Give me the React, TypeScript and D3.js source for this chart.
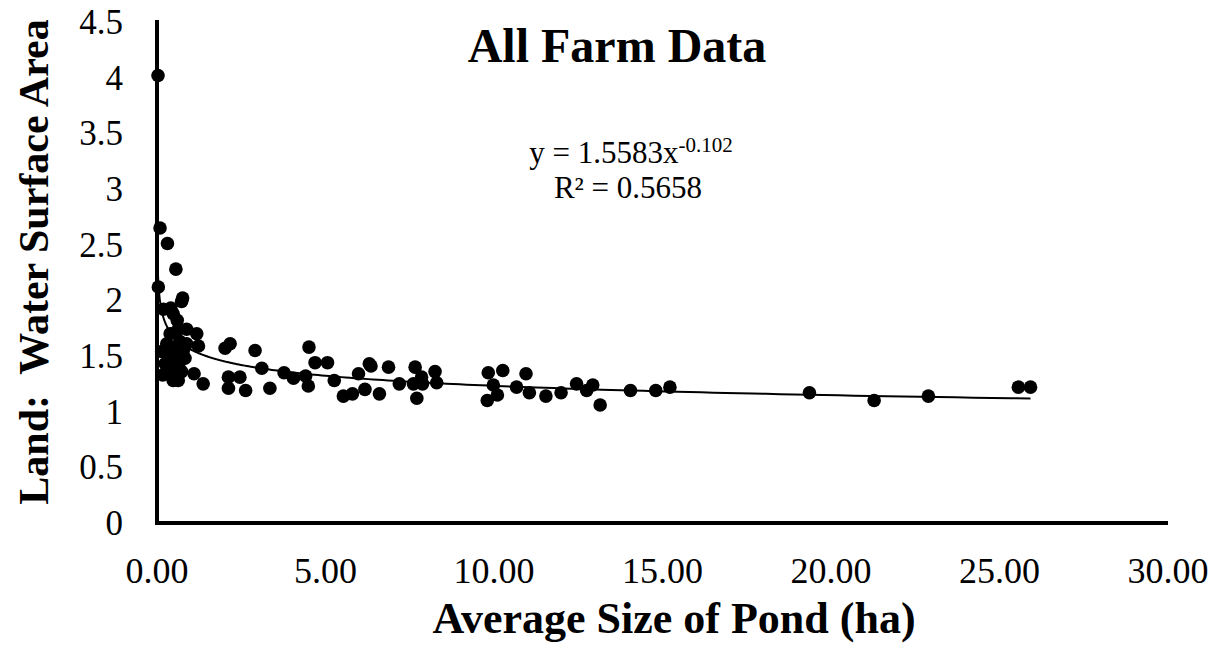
import { useRef, useEffect } from 'react';
import * as d3 from 'd3';

// average pond size (ha) and land : water surface ratio
const pondSize = [
  0.03, 0.09, 0.31, 0.56, 0.04, 0.76, 0.73, 0.19, 0.41, 0.48, 0.6, 0.88, 1.18, 1.23,
  0.39, 0.58, 0.29, 0.68, 0.39, 0.78, 0.24, 0.68, 0.44, 0.73, 0.14, 0.88, 0.83, 0.5, 0.55,
  0.17, 0.48, 0.63, 1.1, 1.37, 2.02, 2.17, 2.91, 2.12, 2.12, 2.46, 2.63, 3.11, 3.35,
  3.77, 4.05, 4.41, 4.49, 4.51, 4.69, 5.06, 5.26, 5.53, 5.8, 5.98, 6.17, 6.3, 6.35,
  6.6, 6.87, 7.19, 7.66, 7.85, 7.61, 7.88, 7.71, 8.25, 8.3, 9.83, 10.26, 9.98, 10.1,
  9.8, 10.67, 10.95, 11.05, 11.54, 11.99, 12.45, 12.75, 12.93, 13.15, 14.05, 14.8,
  15.22, 19.36, 21.28, 22.89, 25.56, 25.92,
];
const landWater = [
  4.02, 2.65, 2.51, 2.28, 2.12, 2.02, 1.99, 1.92, 1.93, 1.88, 1.82, 1.74, 1.7, 1.59,
  1.7, 1.72, 1.61, 1.63, 1.52, 1.55, 1.43, 1.45, 1.36, 1.36, 1.54, 1.61, 1.48, 1.58, 1.47,
  1.33, 1.28, 1.28, 1.34, 1.25, 1.57, 1.61, 1.55, 1.31, 1.21, 1.31, 1.19, 1.39, 1.21,
  1.35, 1.3, 1.32, 1.23, 1.58, 1.44, 1.44, 1.28, 1.14, 1.16, 1.34, 1.2, 1.43, 1.41,
  1.16, 1.4, 1.25, 1.4, 1.31, 1.25, 1.25, 1.12, 1.36, 1.26, 1.35, 1.37, 1.24, 1.15,
  1.1, 1.22, 1.34, 1.17, 1.14, 1.17, 1.25, 1.19, 1.24, 1.06, 1.19, 1.19,
  1.22, 1.17, 1.1, 1.14, 1.22, 1.22,
];

const xTicks = [0, 5, 10, 15, 20, 25, 30];
const yTicks = [0, 0.5, 1, 1.5, 2, 2.5, 3, 3.5, 4, 4.5];

// power trendline from the chart label
const trendA = 1.5583;
const trendB = -0.102;

const FONT = '"Liberation Serif", "Times New Roman", serif';

export default function App() {
  const svgRef = useRef(null);

  useEffect(() => {
    const svg = d3.select(svgRef.current);
    svg.selectAll('*').remove();

    const x = d3.scaleLinear().domain([0, 30]).range([157, 1168]);
    const y = d3.scaleLinear().domain([0, 4.5]).range([523, 22]);

    // trendline
    const xMin = d3.min(pondSize);
    const xMax = d3.max(pondSize);
    const trendPts = d3.range(0, 301).map(i => {
      const t = xMin * Math.pow(xMax / xMin, i / 300);
      return [t, trendA * Math.pow(t, trendB)];
    });
    const line = d3.line().x(d => x(d[0])).y(d => y(d[1]));
    svg.append('path')
      .attr('d', line(trendPts))
      .attr('fill', 'none')
      .attr('stroke', '#000')
      .attr('stroke-width', 2);

    // points
    svg.append('g')
      .selectAll('circle')
      .data(pondSize.map((v, i) => [v, landWater[i]]))
      .enter()
      .append('circle')
      .attr('cx', d => x(d[0]))
      .attr('cy', d => y(d[1]))
      .attr('r', 6.8)
      .attr('fill', '#000');

    // axis lines
    svg.append('path')
      .attr('d', `M${x(0)},${y(4.5) - 2}V${y(0)}H${x(30)}`)
      .attr('fill', 'none')
      .attr('stroke', '#000')
      .attr('stroke-width', 4);

    // tick labels
    svg.append('g')
      .selectAll('text')
      .data(yTicks)
      .enter()
      .append('text')
      .attr('x', 123)
      .attr('y', d => y(d))
      .attr('dy', '0.34em')
      .attr('text-anchor', 'end')
      .attr('font-family', FONT)
      .attr('font-size', 35)
      .text(d => d);

    svg.append('g')
      .selectAll('text')
      .data(xTicks)
      .enter()
      .append('text')
      .attr('x', d => x(d))
      .attr('y', 583)
      .attr('text-anchor', 'middle')
      .attr('font-family', FONT)
      .attr('font-size', 36)
      .text(d => d3.format('.2f')(d));

    // titles
    svg.append('text')
      .attr('x', 617)
      .attr('y', 62)
      .attr('text-anchor', 'middle')
      .attr('font-family', FONT)
      .attr('font-weight', 'bold')
      .attr('font-size', 48)
      .text('All Farm Data');

    svg.append('text')
      .attr('x', 674)
      .attr('y', 633)
      .attr('text-anchor', 'middle')
      .attr('font-family', FONT)
      .attr('font-weight', 'bold')
      .attr('font-size', 44)
      .text('Average Size of Pond (ha)');

    svg.append('text')
      .attr('transform', 'translate(48,262) rotate(-90)')
      .attr('text-anchor', 'middle')
      .attr('font-family', FONT)
      .attr('font-weight', 'bold')
      .attr('font-size', 42)
      .attr('xml:space', 'preserve')
      .text('Land:  Water Surface Area');

    // equation label
    const eq = svg.append('text')
      .attr('x', 631)
      .attr('y', 163)
      .attr('text-anchor', 'middle')
      .attr('font-family', FONT)
      .attr('font-size', 31);
    eq.append('tspan').text(`y = ${trendA}x`);
    eq.append('tspan').attr('dy', -11).attr('font-size', 21).text(trendB);

    svg.append('text')
      .attr('x', 628)
      .attr('y', 198)
      .attr('text-anchor', 'middle')
      .attr('font-family', FONT)
      .attr('font-size', 31)
      .text('R² = 0.5658');
  }, []);

  return (
    <svg
      ref={svgRef}
      width={1225}
      height={649}
      style={{ position: 'absolute', left: 0, top: 0, background: '#fff' }}
    />
  );
}
